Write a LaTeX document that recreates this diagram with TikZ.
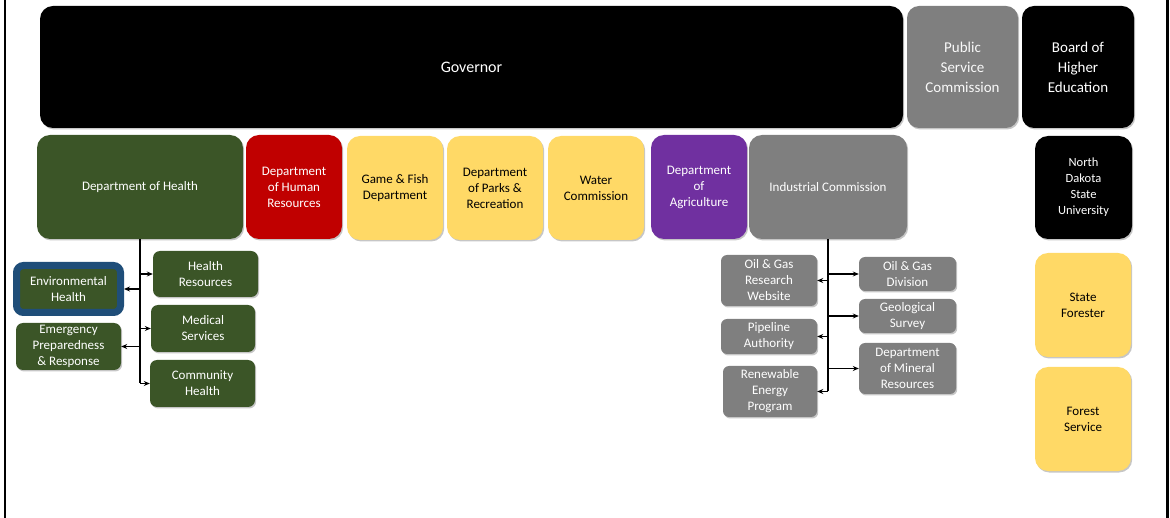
\documentclass[tikz,border=0pt]{standalone}
\usepackage{fontspec}
\setmainfont{Carlito}
\usetikzlibrary{shadows,arrows.meta}

\definecolor{govblack}{HTML}{000000}
\definecolor{hgreen}{HTML}{3B5527}
\definecolor{hred}{HTML}{C00000}
\definecolor{hyellow}{HTML}{FFD966}
\definecolor{hpurple}{HTML}{7030A0}
\definecolor{hgray}{HTML}{7F7F7F}
\definecolor{hblue}{HTML}{1F4E79}

\tikzset{
  unit/.style={rectangle, rounded corners=13pt, align=center, inner sep=1pt,
    drop shadow={shadow xshift=1.2pt, shadow yshift=-1.5pt, opacity=0.45},
    font=\fontsize{13}{16}\selectfont},
  bigunit/.style={unit, font=\fontsize{15}{20}\selectfont},
  subunit/.style={unit, rounded corners=7pt},
  lightbox/.style={fill=#1, text=white},
  darkbox/.style={fill=#1, text=black},
  trunk/.style={line width=1.8pt, black},
  arr/.style={line width=1.1pt, black, -{Stealth[length=6pt,width=5pt]}},
  sideline/.style={line width=2.5pt, black}
}

\begin{document}
\begin{tikzpicture}[x=1pt, y=-1pt]
\useasboundingbox (0,0) rectangle (1170,518);

% outer side rules
\draw[sideline] (5,0) -- (5,518);
\draw[sideline] (1167.5,0) -- (1167.5,518);

% top row
\node[bigunit, lightbox=govblack, minimum width=863pt, minimum height=122pt, font=\fontsize{16}{20}\selectfont] (gov) at (471.5,67) {Governor};
\node[bigunit, fill=hgray, text=white!95!gray, minimum width=111pt, minimum height=122pt, rounded corners=12pt] (psc) at (962.5,67) {Public\\Service\\Commission};
\node[bigunit, lightbox=govblack, minimum width=112pt, minimum height=122pt, rounded corners=12pt] (bhe) at (1078,67) {Board of\\Higher\\Education};

% second row
\node[unit, lightbox=hgreen, minimum width=206pt, minimum height=104pt] (health) at (140,187) {Department of Health};
\node[unit, lightbox=hred, minimum width=96pt, minimum height=104pt] (dhr) at (294,187) {Department\\of Human\\Resources};
\node[unit, darkbox=hyellow, minimum width=96pt, minimum height=104pt] (game) at (395,188) {Game \& Fish\\Department};
\node[unit, darkbox=hyellow, minimum width=96pt, minimum height=104pt] (parks) at (495,188) {Department\\of Parks \&\\Recreation};
\node[unit, darkbox=hyellow, minimum width=96pt, minimum height=104pt] (water) at (596,188) {Water\\Commission};
\node[unit, lightbox=hpurple, minimum width=96pt, minimum height=104pt] (agri) at (699,187) {Department\\of\\Agriculture};
\node[unit, lightbox=hgray, minimum width=158pt, minimum height=104pt] (ind) at (828,187) {Industrial Commission};

% higher education column
\node[unit, lightbox=govblack, minimum width=97pt, minimum height=103pt, font=\fontsize{12.5}{16}\selectfont] (ndsu) at (1083.5,187.5) {North\\Dakota\\State\\University};
\node[unit, darkbox=hyellow, minimum width=96pt, minimum height=104pt] (forester) at (1083,305) {State\\Forester};
\node[unit, darkbox=hyellow, minimum width=96pt, minimum height=104pt] (forest) at (1083,419) {Forest\\Service};

% health divisions
\node[subunit, lightbox=hgreen, draw=hblue, line width=7pt, minimum width=104pt, minimum height=47pt] (env) at (68.5,289) {Environmental\\Health};
\node[subunit, lightbox=hgreen, minimum width=105pt, minimum height=47pt] (emerg) at (68.5,346.5) {Emergency\\Preparedness\\\& Response};
\node[subunit, lightbox=hgreen, minimum width=105pt, minimum height=46pt] (hres) at (205.5,274) {Health\\Resources};
\node[subunit, lightbox=hgreen, minimum width=104pt, minimum height=47pt] (med) at (203,328.5) {Medical\\Services};
\node[subunit, lightbox=hgreen, minimum width=105pt, minimum height=47pt] (comm) at (202.5,383.5) {Community\\Health};

% industrial commission divisions
\node[subunit, lightbox=hgray, rounded corners=6pt, minimum width=96pt, minimum height=51pt] (ogrw) at (769,280.5) {Oil \& Gas\\Research\\Website};
\node[subunit, lightbox=hgray, rounded corners=6pt, minimum width=96pt, minimum height=35pt] (pipe) at (769,336.5) {Pipeline\\Authority};
\node[subunit, lightbox=hgray, rounded corners=6pt, minimum width=94pt, minimum height=51pt] (renew) at (770,391.5) {Renewable\\Energy\\Program};
\node[subunit, lightbox=hgray, rounded corners=6pt, minimum width=97pt, minimum height=34pt] (ogd) at (907.5,274) {Oil \& Gas\\Division};
\node[subunit, lightbox=hgray, rounded corners=6pt, minimum width=97pt, minimum height=34pt] (geo) at (907.5,316) {Geological\\Survey};
\node[subunit, lightbox=hgray, rounded corners=6pt, minimum width=97pt, minimum height=51pt] (mineral) at (907.5,368.5) {Department\\of Mineral\\Resources};

% health connectors
\draw[trunk] (health.south) -- (health.south |- comm.west);
\draw[arr] (health.south |- hres.west) -- (hres.west);
\draw[arr] (health.south |- env.east) -- (env.east);
\draw[arr] (health.south |- med.west) -- (med.west);
\draw[arr] (health.south |- emerg.east) -- (emerg.east);
\draw[arr] (health.south |- comm.west) -- (comm.west);

% industrial connectors
\draw[trunk] (ind.south) -- (ind.south |- renew.east);
\draw[arr] (ind.south |- ogrw.east) -- (ogrw.east);
\draw[arr] (ind.south |- pipe.east) -- (pipe.east);
\draw[arr] (ind.south |- renew.east) -- (renew.east);
\draw[arr] (ind.south |- ogd.west) -- (ogd.west);
\draw[arr] (ind.south |- geo.west) -- (geo.west);
\draw[arr] (ind.south |- mineral.west) -- (mineral.west);
\end{tikzpicture}
\end{document}
